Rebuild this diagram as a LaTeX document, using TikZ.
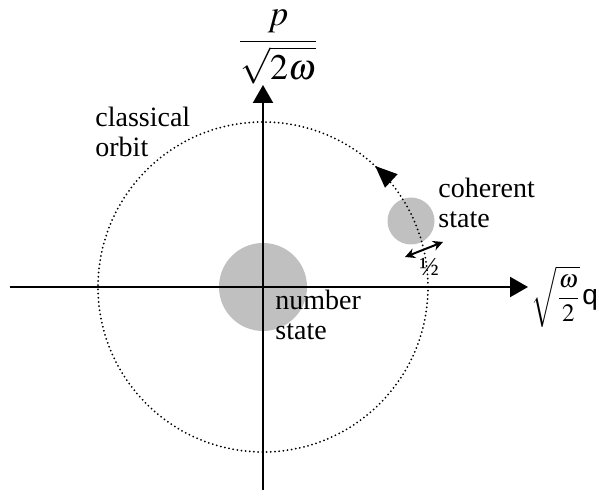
\documentclass[tikz,border=0pt]{standalone}
\usepackage{amsmath}
\usepackage{mathptmx}
\usepackage[no-math]{fontspec}
\setmainfont{Liberation Serif}
\newfontfamily\arialfont{Liberation Sans}
\usepackage{tikz}
\usetikzlibrary{arrows.meta,positioning,calc,decorations.markings}
\definecolor{ink}{HTML}{000000}
\definecolor{blob}{HTML}{C0C0C0}
\tikzset{axis/.style={-{Triangle[length=9pt,width=10pt]}, line width=1.2pt, ink},
         orbitline/.style={line width=1pt, line cap=round, dash pattern=on 0pt off 2.1pt, ink},
         lbl/.style={font=\fontsize{14}{15}\selectfont, align=left, anchor=west, inner sep=0pt},
         widtharr/.style={{Stealth[length=5pt,width=5pt]}-{Stealth[length=5pt,width=5pt]}, line width=1pt, ink}}

\begin{document}
\begin{tikzpicture}[x=0.5pt,y=0.5pt]
\useasboundingbox (-263,-209) rectangle (336,287);
% states
\fill[blob] (0,0) circle[radius=44];
\fill[blob] (148,66) circle[radius=23.5];
% classical orbit
\draw[orbitline, postaction={decorate}, decoration={markings, mark=at position 0.131 with {\arrow[ink]{Triangle[length=11pt,width=9pt]}}}] (0,0) circle[radius=165];
% axes
\coordinate (O) at (0,0);
\coordinate (xl) at (-253,0);
\coordinate (xr) at (265,0);
\coordinate (yb) at (0,-203);
\coordinate (yt) at (0,202);
\draw[axis] (xl) -- (xr);
\draw[axis] (yb) -- (yt);
% width of the coherent state
\coordinate (wa) at (142,30);
\coordinate (wb) at (180,45);
\draw[widtharr] (wa) -- (wb);
\node[font=\fontsize{13}{13}\selectfont, inner sep=0pt] (half) at (166,20) {½};
% labels
\node[lbl] (orbit) at (-168,155) {classical\\orbit};
\node[lbl] (coherent) at (175,84) {coherent\\state};
\node[lbl] (number) at (12,-28) {number\\state};
\node[font=\fontsize{18}{20}\selectfont, inner sep=0pt] (pax) at (15,240) {$\dfrac{p}{\sqrt{2\omega}}$};
\node[font=\fontsize{12.5}{14}\selectfont, inner sep=0pt, anchor=west] (qax) at (268,-10) {$\sqrt{\dfrac{\omega}{2}}$\hspace{1pt}{\arialfont\fontsize{14}{14}\selectfont q}};
\end{tikzpicture}
\end{document}
